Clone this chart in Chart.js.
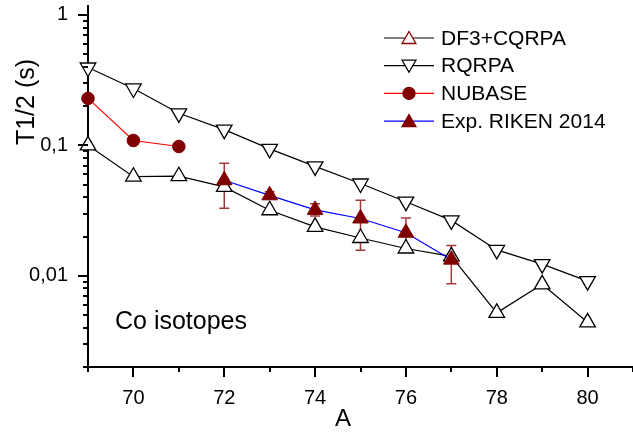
<!DOCTYPE html>
<html>
<head>
<meta charset="utf-8">
<script src="https://cdn.jsdelivr.net/npm/chart.js@4/dist/chart.umd.min.js"></script>
<style>
  html, body { margin: 0; padding: 0; background: #fff; }
  canvas { display: block; }
</style>
</head>
<body>
<canvas id="chart" width="633" height="432"></canvas>
<script>
// данні
const massNumbers = [69, 70, 71, 72, 73, 74, 75, 76, 77, 78, 79, 80];
const df3Cqrpa = [0.1, 0.0575, 0.058, 0.048, 0.0318, 0.0237, 0.0195, 0.0162, 0.0141, 0.0052, 0.0086, 0.0044];
const rqrpa = [0.395, 0.273, 0.176, 0.132, 0.094, 0.069, 0.051, 0.037, 0.0266, 0.0158, 0.0123, 0.0091];
const nubaseA = [69, 70, 71];
const nubase = [0.229, 0.109, 0.098];
const expA = [72, 73, 74, 75, 76, 77];
const expRiken = [0.054, 0.0414, 0.032, 0.0275, 0.0214, 0.0133];
const expHigh = [0.073, 0.044, 0.0357, 0.038, 0.0278, 0.0171];
const expLow = [0.033, 0.039, 0.0288, 0.0157, 0.0165, 0.0087];
const xTicks = [70, 72, 74, 76, 78, 80];
const yTicks = [0.01, 0.1, 1];
const yTickLabels = ["0,01", "0,1", "1"];
const seriesNames = ["DF3+CQRPA", "RQRPA", "NUBASE", "Exp. RIKEN 2014"];

const FONT = "'Liberation Sans', Arial, sans-serif";
Chart.defaults.font.family = FONT;
Chart.defaults.color = "#000";

const toXY = (xs, ys) => xs.map((x, i) => ({ x: x, y: ys[i] }));

// малюємо трикутник або коло для легенди
function marker(ctx, style, x, y, r, fill, stroke) {
  ctx.save();
  ctx.fillStyle = fill;
  ctx.strokeStyle = stroke;
  ctx.lineWidth = 1.3;
  ctx.beginPath();
  if (style === "circle") {
    ctx.arc(x, y, r, 0, Math.PI * 2);
  } else {
    const s = style === "down" ? -1 : 1;
    for (let k = 0; k < 3; k++) {
      const a = k * 2 * Math.PI / 3;
      const px = x + Math.sin(a) * r;
      const py = y - s * Math.cos(a) * r;
      if (k === 0) ctx.moveTo(px, py); else ctx.lineTo(px, py);
    }
    ctx.closePath();
  }
  ctx.fill();
  ctx.stroke();
  ctx.restore();
}

const overlay = {
  id: "overlay",
  beforeDatasetsDraw(chart) {
    // планки похибок
    const ctx = chart.ctx;
    const xs = chart.scales.x, ys = chart.scales.y;
    ctx.save();
    ctx.strokeStyle = "#a33a3a";
    ctx.lineWidth = 1.5;
    expA.forEach((a, i) => {
      const px = xs.getPixelForValue(a);
      const top = ys.getPixelForValue(expHigh[i]);
      const bot = ys.getPixelForValue(expLow[i]);
      ctx.beginPath();
      ctx.moveTo(px, top); ctx.lineTo(px, bot);
      ctx.moveTo(px - 5, top); ctx.lineTo(px + 5, top);
      ctx.moveTo(px - 5, bot); ctx.lineTo(px + 5, bot);
      ctx.stroke();
    });
    ctx.restore();
  },
  afterDraw(chart) {
    const ctx = chart.ctx;
    const area = chart.chartArea;
    const xs = chart.scales.x, ys = chart.scales.y;
    ctx.save();
    ctx.strokeStyle = "#000";
    ctx.lineWidth = 2;
    // поділки осі X
    for (let v = 69; v <= 81; v++) {
      const px = Math.round(xs.getPixelForValue(v));
      const len = xTicks.includes(v) ? 10 : 5;
      ctx.beginPath();
      ctx.moveTo(px, area.bottom);
      ctx.lineTo(px, area.bottom + len);
      ctx.stroke();
    }
    // поділки осі Y (логарифмічні)
    for (let d = -3; d <= 0; d++) {
      for (let m = 1; m <= 9; m++) {
        const v = m * Math.pow(10, d);
        if (v < ys.min * 0.999 || v > ys.max) continue;
        const py = Math.round(ys.getPixelForValue(v));
        const len = m === 1 ? 10 : 5;
        ctx.beginPath();
        ctx.moveTo(area.left - len, py);
        ctx.lineTo(area.left, py);
        ctx.stroke();
      }
    }
    // підписи
    ctx.fillStyle = "#000";
    ctx.font = "25px " + FONT;
    ctx.textAlign = "left";
    ctx.textBaseline = "alphabetic";
    ctx.fillText("Co isotopes", 115, 329);
    ctx.font = "24px " + FONT;
    ctx.textAlign = "center";
    ctx.textBaseline = "middle";
    ctx.fillText("A", 343, 419);
    ctx.save();
    ctx.translate(27, 102);
    ctx.rotate(-Math.PI / 2);
    ctx.font = "25px " + FONT;
    ctx.fillText("T1/2 (s)", 0, 0);
    ctx.restore();
    // легенда
    const rows = [
      { line: "#000", style: "up", fill: "#fff", stroke: "#8b0000" },
      { line: "#000", style: "down", fill: "#fff", stroke: "#000" },
      { line: "#ff0000", style: "circle", fill: "#800000", stroke: "#800000" },
      { line: "#0000ff", style: "up", fill: "#800000", stroke: "#800000" }
    ];
    ctx.font = "21px " + FONT;
    ctx.textAlign = "left";
    rows.forEach((r, i) => {
      const y = 38 + i * 27.7;
      ctx.strokeStyle = r.line;
      ctx.lineWidth = 1.2;
      ctx.beginPath();
      ctx.moveTo(384, y); ctx.lineTo(434, y);
      ctx.stroke();
      marker(ctx, r.style, 409, r.style === "circle" ? y : y + (r.style === "up" ? 1.5 : -1.5), r.style === "circle" ? 6 : 8, r.fill, r.stroke);
      ctx.fillStyle = "#000";
      ctx.fillText(seriesNames[i], 441, y + 1);
    });
    ctx.restore();
  }
};

new Chart(document.getElementById("chart").getContext("2d"), {
  type: "line",
  data: {
    datasets: [
      {
        label: seriesNames[3],
        data: toXY(expA, expRiken),
        borderColor: "#0000ff",
        borderWidth: 1.2,
        pointStyle: "triangle",
        pointRadius: 9,
        pointBackgroundColor: "#800000",
        pointBorderColor: "#800000",
        pointBorderWidth: 1,
        order: 0,
        clip: false
      },
      {
        label: seriesNames[0],
        data: toXY(massNumbers, df3Cqrpa),
        borderColor: "#000",
        borderWidth: 1.2,
        pointStyle: "triangle",
        pointRadius: 9,
        pointBackgroundColor: "#fff",
        pointBorderColor: "#000",
        pointBorderWidth: 1.3,
        order: 1,
        clip: false
      },
      {
        label: seriesNames[1],
        data: toXY(massNumbers, rqrpa),
        borderColor: "#000",
        borderWidth: 1.2,
        pointStyle: "triangle",
        rotation: 180,
        pointRadius: 9,
        pointBackgroundColor: "#fff",
        pointBorderColor: "#000",
        pointBorderWidth: 1.3,
        order: 2,
        clip: false
      },
      {
        label: seriesNames[2],
        data: toXY(nubaseA, nubase),
        borderColor: "#ff0000",
        borderWidth: 1.2,
        pointStyle: "circle",
        pointRadius: 6.3,
        pointBackgroundColor: "#800000",
        pointBorderColor: "#800000",
        pointBorderWidth: 1,
        order: 3,
        clip: false
      }
    ]
  },
  options: {
    responsive: false,
    animation: false,
    layout: { autoPadding: false, padding: { top: 6, right: 0, left: 0, bottom: 0 } },
    plugins: {
      legend: { display: false },
      tooltip: { enabled: false }
    },
    scales: {
      x: {
        type: "linear",
        min: 69,
        max: 81,
        afterBuildTicks: (s) => { s.ticks = xTicks.map((v) => ({ value: v })); },
        afterFit: (s) => { s.height = 65; s.paddingLeft = 0; s.paddingRight = 0; },
        grid: { display: false, drawTicks: true, tickLength: 10 },
        border: { display: true, color: "#000", width: 2 },
        ticks: { font: { size: 20 }, padding: 9, maxRotation: 0 }
      },
      y: {
        type: "logarithmic",
        min: 0.002,
        max: 1.17,
        afterBuildTicks: (s) => { s.ticks = yTicks.map((v) => ({ value: v })); },
        afterFit: (s) => { s.width = 88; s.paddingTop = 0; s.paddingBottom = 0; },
        grid: { display: false, drawTicks: true, tickLength: 10 },
        border: { display: true, color: "#000", width: 2 },
        ticks: {
          font: { size: 20 },
          padding: 10,
          callback: (v) => {
            const i = yTicks.findIndex((t) => Math.abs(t - v) / t < 1e-6);
            return i >= 0 ? yTickLabels[i] : "";
          }
        }
      }
    }
  },
  plugins: [overlay]
});
</script>
</body>
</html>
